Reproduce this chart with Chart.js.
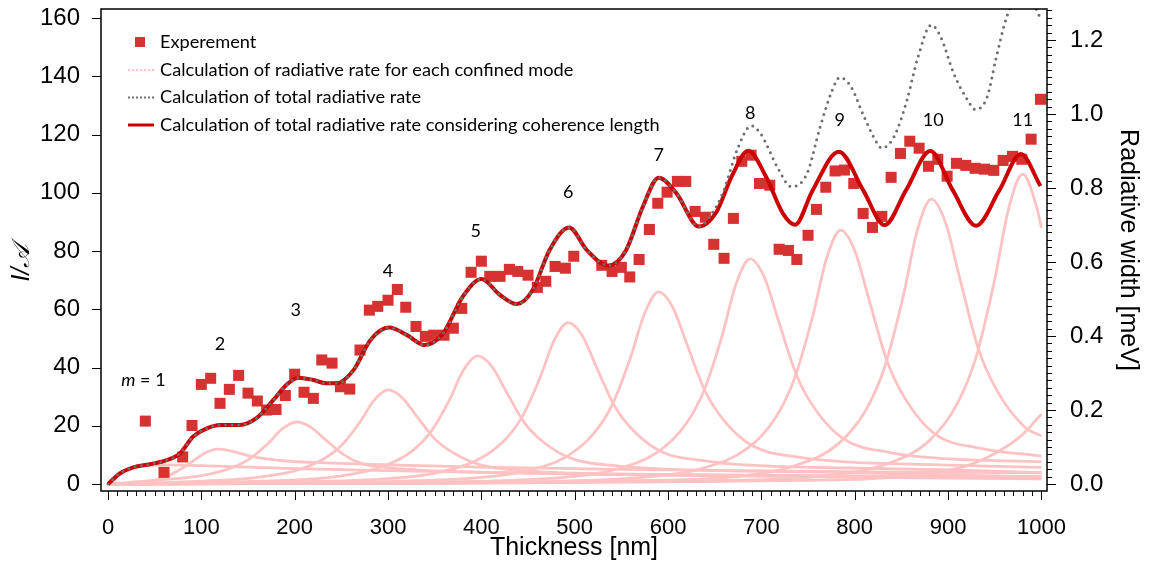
<!DOCTYPE html>
<html><head><meta charset="utf-8">
<script src="https://cdn.jsdelivr.net/npm/chart.js@4/dist/chart.umd.min.js"></script>
<style>html,body{margin:0;padding:0;background:#fff;}#wrap{width:1150px;height:568px;}</style>
</head><body><div id="wrap"><canvas id="c" width="1150" height="568"></canvas></div>
<script>
// ---------------- data ----------------
const expThickness = [40,60,80,90,100,110,120,130,140,150,160,170,180,190,200,210,220,229,240,249,259,270,280,289,300,310,319,330,340,349,360,370,379,389,400,409,420,430,439,450,460,469,479,490,499,529,540,550,559,569,580,589,599,610,619,629,640,649,660,670,679,689,698,709,719,729,738,750,759,769,779,789,799,809,819,829,839,849,859,869,879,889,899,909,919,929,939,949,959,969,979,989,999];
const expValue = [21.6,4.0,9.3,20.1,34.2,36.3,27.7,32.5,37.3,31.2,28.5,25.4,25.6,30.4,37.7,31.5,29.4,42.6,41.5,33.4,32.6,46.0,59.7,61.0,63.1,66.8,60.7,54.1,50.7,51.1,51.1,53.5,60.3,72.7,76.5,71.3,71.3,73.7,73.0,71.7,67.5,69.6,74.7,74.1,78.2,75.1,73.0,74.4,71.1,77.1,87.4,96.4,100.2,103.9,103.9,93.6,91.6,82.3,77.5,91.2,110.8,112.9,103.2,102.6,80.6,80.2,77.1,85.4,94.3,101.9,107.5,107.8,103.2,92.9,88.1,91.9,105.3,113.5,117.7,115.3,109.1,111.5,105.7,110.1,109.4,108.4,108.1,107.7,111.1,112.5,111.5,118.4,132.1];

// total radiative rate considering coherence length [thickness, value]
const coherenceTotal = [[0,0],[13,3.7],[27,5.7],[45,6.8],[63,8.2],[77,10.5],[91,16.2],[106,19.1],[120,20.3],[141,20.3],[159,22.6],[177,28.8],[191,34],[204,36.5],[220,35.7],[234,34.6],[245,34.6],[263,39.1],[281,49.4],[301,53.7],[320,51.2],[339,47.7],[359,51.7],[380,64.3],[400,70.4],[420,64.9],[438,61.8],[455,66.6],[473,80.3],[494,88.1],[513,80.3],[536,75.0],[555,80.3],[573,95.2],[590,105.2],[609,99.8],[633,88.4],[652,93.5],[668,105.5],[686,114.4],[705,105.5],[723,92.9],[736,89.0],[755,100.9],[783,114.1],[809,100.9],[832,88.9],[855,100.9],[881,114.3],[905,100.9],[930,88.7],[955,100.9],[978,113.3],[999,102.3]];
// total radiative rate (no coherence length)
const totalRate = [[0,0],[13,3.7],[27,5.7],[45,6.8],[63,8.2],[77,10.5],[91,16.2],[106,19.1],[120,20.3],[141,20.3],[159,22.6],[177,28.8],[191,34],[204,36.5],[220,35.7],[234,34.6],[245,34.6],[263,39.1],[281,49.4],[301,53.7],[320,51.2],[339,47.7],[359,51.7],[380,64.3],[400,70.4],[420,64.9],[438,61.8],[455,66.6],[473,80.3],[494,88.1],[513,80.3],[536,75.0],[555,80.3],[573,95.2],[590,105.2],[609,99.8],[633,88.4],[652,95.5],[660,101],[674,114.7],[689,123],[699,120.4],[717,108.9],[732,102.1],[749,106.7],[763,122.7],[776,135.3],[784,139.6],[796,136.4],[810,126.1],[824,117],[829,115.3],[842,119.2],[856,131.8],[867,145.7],[882,157.6],[892,153.6],[906,141],[921,131.8],[929,128.6],[942,133],[951,145.6],[963,160.5],[978,169],[990,166],[1000,159]];

// radiative rate of each confined mode
const mode1 = [[0,0],[13,3.6],[27,5.6],[45,6.5],[65,6.6],[100,6.3],[150,5.8],[200,5.3],[300,4.6],[400,4.0],[550,3.4],[700,3.0],[850,2.7],[1000,2.4]];
const mode2 = [[0,0],[40,0.6],[62,2.5],[80,5.5],[95,8.8],[105,10.8],[117,12],[130,11.5],[155,9.4],[191,7.9],[240,7.2],[300,6.6],[400,5.8],[550,5.0],[700,4.5],[850,4.1],[1000,3.8]];
const mode3 = [[0,0],[52,1.3],[102,3.0],[132,5.5],[152,8.7],[172,14.1],[187,19.0],[202,21.3],[217,19.6],[232,15.5],[252,10.2],[272,7.0],[302,5.5],[352,4.5],[402,4.0],[502,3.4],[602,3.0],[702,2.7],[902,2.3],[1000,2.2]];
const mode4 = [[0,0],[100,1.0],[150,1.9],[200,4.5],[230,8.4],[250,13.2],[270,21.3],[285,28.7],[300,32.3],[315,29.7],[330,23.6],[350,15.5],[370,10.7],[400,6.5],[450,4.5],[500,3.7],[600,3.2],[700,2.8],[800,2.3],[1000,1.8]];
const mode5 = [[0,0],[96,0.5],[196,1.3],[246,2.6],[296,6.2],[326,11.4],[346,18.0],[366,29.0],[381,39.2],[396,44],[411,40.5],[426,32.1],[446,21.1],[466,14.5],[496,8.8],[546,6.2],[596,5.1],[696,4.4],[796,3.9],[896,3.1],[1000,2.5]];
const mode6 = [[0,0],[193,0.7],[293,1.7],[343,3.3],[393,7.8],[423,14.4],[443,22.7],[463,36.6],[478,49.3],[493,55.4],[508,51.0],[523,40.4],[543,26.6],[563,18.3],[593,11.1],[643,7.8],[693,6.4],[793,5.5],[893,4.9],[1000,3.9]];
const mode7 = [[0,0],[290,0.8],[390,2.0],[440,4.0],[490,9.2],[520,17.2],[540,27.1],[560,43.6],[575,58.7],[590,66],[605,60.7],[620,48.2],[640,31.7],[660,21.8],[690,13.2],[740,9.2],[790,7.6],[890,6.6],[1000,5.7]];
const mode8 = [[0,0],[388,0.9],[488,2.3],[538,4.6],[588,10.8],[618,20.1],[638,31.7],[658,51.0],[673,68.8],[688,77.3],[703,71.1],[718,56.4],[738,37.1],[758,25.5],[788,15.5],[838,10.8],[888,8.9],[1000,7.6]];
const mode9 = [[0,0],[485,1.0],[585,2.6],[635,5.2],[685,12.2],[715,22.7],[735,35.8],[755,57.6],[770,77.6],[785,87.2],[800,80.2],[815,63.7],[835,41.9],[855,28.8],[885,17.4],[935,12.2],[1000,9.6]];
const mode10 = [[0,0],[582,1.2],[682,2.9],[732,5.9],[782,13.7],[812,25.4],[832,40.1],[852,64.5],[867,87.0],[882,97.8],[897,90.0],[912,71.4],[932,46.9],[952,32.3],[982,19.6],[1000,16.5]];
const mode11 = [[0,0],[680,1.3],[780,3.2],[830,6.4],[880,14.9],[910,27.7],[930,43.6],[950,70.2],[965,94.7],[980,106.4],[995,95],[1000,88]];
const mode12 = [[0,0],[777,1.4],[877,3.5],[927,7.0],[977,16.2],[1000,24]];
const modes = [mode1,mode2,mode3,mode4,mode5,mode6,mode7,mode8,mode9,mode10,mode11,mode12];

// mode number annotations
const modeLabelText = ['2','3','4','5','6','7','8','9','10','11'];
const modeLabelX = [120,201,300,394,493,590,688,784,884,980];
const modeLabelY = [48.1,59.7,73.1,86.9,100.3,113.0,127.4,125.0,125.0,125.0];
const firstLabelX = 38, firstLabelY = 35.7;

// ticks
const xTicks = [0,100,200,300,400,500,600,700,800,900,1000];
const yLeftTicks = [0,20,40,60,80,100,120,140,160];
const yRightTicks = [0,0.2,0.4,0.6,0.8,1.0,1.2];

const legendLabels = ['Experement','Calculation of radiative rate for each confined mode','Calculation of total radiative rate','Calculation of total radiative rate considering coherence length'];

// ---------------- styles ----------------
const C_EXP = '#d63232', C_MODE = '#ffc2c2', C_TOT = '#6f6f6f', C_COH = '#cc0000';
const TICK_FONT = 'Liberation Sans, Arial, Helvetica, sans-serif';
const NOTE_FONT = 'Lato, "Open Sans", sans-serif';
const toXY = arr => arr.map(p => ({x: p[0], y: p[1]}));

const datasets = [
  {label: legendLabels[2], data: toXY(totalRate), borderColor: C_TOT, borderWidth: 3, borderDash: [0, 6.5], borderCapStyle: 'round', pointRadius: 0, cubicInterpolationMode: 'monotone', order: 0},
  {label: legendLabels[3], data: toXY(coherenceTotal), borderColor: C_COH, borderWidth: 4, pointRadius: 0, cubicInterpolationMode: 'monotone', order: 1},
  {label: legendLabels[0], data: expThickness.map((t, i) => ({x: t, y: expValue[i]})), showLine: false, pointStyle: 'rect', pointRadius: 7.8, pointBackgroundColor: C_EXP, pointBorderWidth: 0, borderColor: C_EXP, backgroundColor: C_EXP, order: 2}
];
modes.forEach((m, i) => datasets.push({label: legendLabels[1], data: toXY(m), borderColor: C_MODE, borderWidth: 2.8, pointRadius: 0, cubicInterpolationMode: 'monotone', order: 3}));

// ---------------- plugins ----------------
const axisDecor = {
  id: 'axisDecor',
  afterDraw(chart) {
    const {ctx, chartArea: a} = chart;
    const sx = chart.scales.x, sy = chart.scales.y, sr = chart.scales.y2;
    ctx.save();
    ctx.strokeStyle = '#000';
    ctx.lineWidth = 1;
    ctx.beginPath();
    for (let v = 0; v <= 1000; v += 10) {
      const p = Math.round(sx.getPixelForValue(v)) + 0.5;
      ctx.moveTo(p, a.bottom); ctx.lineTo(p, a.bottom + (v % 100 === 0 ? 9 : 5));
    }
    yLeftTicks.forEach(v => {
      const p = Math.round(sy.getPixelForValue(v)) + 0.5;
      ctx.moveTo(a.left - 9, p); ctx.lineTo(a.left, p);
    });
    for (let i = 0; i <= 64; i++) {
      const p = Math.round(sr.getPixelForValue(i * 0.02)) + 0.5;
      ctx.moveTo(a.right, p); ctx.lineTo(a.right + (i % 10 === 0 ? 9 : 5), p);
    }
    ctx.stroke();
    ctx.lineWidth = 1.5;
    ctx.strokeRect(a.left, a.top, a.right - a.left, a.bottom - a.top);
    ctx.restore();
  }
};

const notes = {
  id: 'notes',
  afterDatasetsDraw(chart) {
    const {ctx} = chart;
    const sx = chart.scales.x, sy = chart.scales.y;
    ctx.save();
    ctx.fillStyle = '#000';
    ctx.textAlign = 'center';
    ctx.textBaseline = 'middle';
    ctx.font = '18px ' + NOTE_FONT;
    modeLabelText.forEach((t, i) => ctx.fillText(t, sx.getPixelForValue(modeLabelX[i]), sy.getPixelForValue(modeLabelY[i])));
    // m = 1
    const cx = sx.getPixelForValue(firstLabelX), cy = sy.getPixelForValue(firstLabelY);
    ctx.textAlign = 'left';
    ctx.font = 'italic 18px ' + NOTE_FONT;
    const mW = ctx.measureText('m').width;
    ctx.font = '18px ' + NOTE_FONT;
    const rest = ' = 1';
    const rW = ctx.measureText(rest).width;
    const x0 = cx - (mW + rW) / 2;
    ctx.font = 'italic 18px ' + NOTE_FONT;
    ctx.fillText('m', x0, cy);
    ctx.font = '18px ' + NOTE_FONT;
    ctx.fillText(rest, x0 + mW, cy);

    // legend
    const a = chart.chartArea;
    const lx = a.left + 27, tx = a.left + 59;
    const rows = [42, 70, 97.5, 125];
    ctx.font = '18.2px ' + NOTE_FONT;
    ctx.textAlign = 'left';
    legendLabels.forEach((t, i) => ctx.fillText(t, tx, rows[i]));
    ctx.fillStyle = C_EXP;
    ctx.fillRect(a.left + 34, rows[0] - 5, 10, 10);
    ctx.lineWidth = 2.2;
    ctx.lineCap = 'butt';
    ctx.setLineDash([2, 2]);
    ctx.strokeStyle = C_MODE;
    ctx.beginPath(); ctx.moveTo(lx, rows[1]); ctx.lineTo(lx + 26, rows[1]); ctx.stroke();
    ctx.strokeStyle = C_TOT;
    ctx.beginPath(); ctx.moveTo(lx, rows[2]); ctx.lineTo(lx + 26, rows[2]); ctx.stroke();
    ctx.setLineDash([]);
    ctx.lineWidth = 3;
    ctx.strokeStyle = C_COH;
    ctx.beginPath(); ctx.moveTo(lx, rows[3]); ctx.lineTo(lx + 26, rows[3]); ctx.stroke();
    ctx.restore();
  }
};

const noPad = s => { s.paddingTop = 0; s.paddingBottom = 0; s.paddingLeft = 0; s.paddingRight = 0; };

// ---------------- chart ----------------
new Chart(document.getElementById('c'), {
  type: 'line',
  data: {datasets},
  options: {
    responsive: false,
    animation: false,
    devicePixelRatio: 1,
    layout: {padding: {top: 9, left: 0, right: 0, bottom: 0}},
    plugins: {legend: {display: false}, tooltip: {enabled: false}},
    scales: {
      x: {
        type: 'linear', position: 'bottom', min: -7.5, max: 1006,
        afterBuildTicks: s => { s.ticks = xTicks.map(v => ({value: v})); },
        afterFit: s => { s.height = 77; noPad(s); },
        grid: {display: false}, border: {display: false},
        ticks: {font: {family: TICK_FONT, size: 22}, color: '#000', padding: 16, maxRotation: 0, autoSkip: false, callback: v => String(v)},
        title: {display: true, text: 'Thickness [nm]', font: {family: TICK_FONT, size: 25}, color: '#000', padding: {top: 0, bottom: 5}}
      },
      y: {
        type: 'linear', position: 'left', min: -2.4, max: 163.1,
        afterBuildTicks: s => { s.ticks = yLeftTicks.map(v => ({value: v})); },
        afterFit: s => { s.width = 101; noPad(s); },
        grid: {display: false}, border: {display: false},
        ticks: {font: {family: TICK_FONT, size: 24}, color: '#000', padding: 13, callback: v => String(v)},
        title: {display: true, text: 'I/𝒜\u2003', font: {family: TICK_FONT, size: 25, style: 'italic'}, color: '#000', padding: {top: 7, bottom: 0}}
      },
      y2: {
        type: 'linear', position: 'right', min: -0.0189, max: 1.2839,
        afterBuildTicks: s => { s.ticks = yRightTicks.map(v => ({value: v})); },
        afterFit: s => { s.width = 103; noPad(s); },
        grid: {display: false}, border: {display: false},
        ticks: {font: {family: TICK_FONT, size: 24}, color: '#000', padding: 15, callback: v => Number(v).toFixed(1)},
        title: {display: true, text: 'Radiative width [meV]', font: {family: TICK_FONT, size: 25}, color: '#000', padding: {top: 7, bottom: 0}}
      }
    }
  },
  plugins: [notes, axisDecor]
});
</script></body></html>
